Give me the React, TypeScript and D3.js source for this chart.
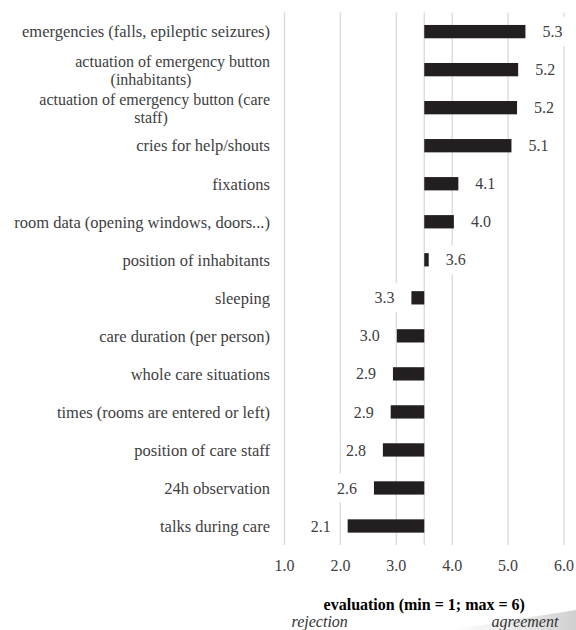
import React from "react";
import * as d3 from "d3";

const categories = [
  "emergencies (falls, epileptic seizures)",
  "actuation of emergency button (inhabitants)",
  "actuation of emergency button (care staff)",
  "cries for help/shouts",
  "fixations",
  "room data (opening windows, doors...)",
  "position of inhabitants",
  "sleeping",
  "care duration (per person)",
  "whole care situations",
  "times (rooms are entered or left)",
  "position of care staff",
  "24h observation",
  "talks during care",
];
const values = [5.31, 5.18, 5.16, 5.06, 4.11, 4.03, 3.58, 3.27, 3.01, 2.94, 2.9, 2.76, 2.6, 2.13];
const xTicks = [1, 2, 3, 4, 5, 6];
const baseline = 3.5;
const axisTitle = "evaluation (min = 1; max = 6)";
const poleLabels = [
  { text: "rejection", at: 1.63 },
  { text: "agreement", at: 5.3 },
];

const W = 576;
const H = 630;
const FONT = "Liberation Serif";
const MAX_CHARS = 39;

function wrap(s: string): string[] {
  const words = s.split(" ");
  const lines: string[] = [];
  let cur = "";
  for (const w of words) {
    const test = cur ? cur + " " + w : w;
    if (test.length > MAX_CHARS && cur) {
      lines.push(cur);
      cur = w;
    } else cur = test;
  }
  lines.push(cur);
  return lines;
}

export default function App() {
  const x = d3.scaleLinear().domain([1, 6]).range([284.5, 564]);
  const y = d3
    .scaleBand<string>()
    .domain(categories)
    .range([12.6, 545])
    .paddingInner(0.65)
    .paddingOuter(0.325);
  const fmt = d3.format(".1f");
  const bw = y.bandwidth();
  const gridVals = [...xTicks, baseline];

  return (
    <div style={{ position: "absolute", left: 0, top: 0 }}>
      <svg width={W} height={H} style={{ display: "block", background: "#fff" }} fontFamily={FONT}>
        <defs>
          <linearGradient id="shade" x1="0" y1="0" x2="1" y2="0">
            <stop offset="0" stopColor="#ffffff" />
            <stop offset="0.6" stopColor="#e6e6e6" />
            <stop offset="1" stopColor="#d0d0d0" />
          </linearGradient>
        </defs>
        <path d="M450,630 L576,610 L576,630 Z" fill="url(#shade)" />

        {gridVals.map((g) => (
          <line key={g} x1={x(g)} x2={x(g)} y1={12.6} y2={545} stroke="#d9d9d9" strokeWidth={1.3} />
        ))}

        {values.map((v, i) => (
          <rect
            key={i}
            x={Math.min(x(v), x(baseline))}
            width={Math.abs(x(v) - x(baseline))}
            y={y(categories[i])}
            height={bw}
            fill="#231f20"
          />
        ))}

        {values.map((v, i) => {
          const cy = y(categories[i])! + bw / 2;
          const pos = v >= baseline;
          const label = fmt(v);
          const tw = 20;
          const tx = pos ? x(v) + 17 : x(v) - 17;
          const left = pos ? tx : tx - tw;
          return (
            <g key={i}>
              <rect x={left - 5} y={cy - 14.5} width={tw + 10} height={29} fill="#fff" />
              <text
                x={tx}
                y={cy}
                dy="0.35em"
                textAnchor={pos ? "start" : "end"}
                fontSize={16}
                fill="#404040"
              >
                {label}
              </text>
            </g>
          );
        })}

        {categories.map((c) => {
          const cy = y(c)! + bw / 2;
          const lines = wrap(c);
          const lh = 18;
          const multi = lines.length > 1;
          const top = cy - ((lines.length - 1) * lh) / 2 + (multi ? 1 : 0);
          return (
            <text key={c} fontSize={multi ? 16 : 16.5} fill="#404040">
              {lines.map((l, k) => (
                <tspan
                  key={k}
                  x={k === 0 ? 270 : 151}
                  y={top + k * lh}
                  dy="0.35em"
                  textAnchor={k === 0 ? "end" : "middle"}
                >
                  {l}
                </tspan>
              ))}
            </text>
          );
        })}

        {xTicks.map((t) => (
          <text key={t} x={x(t)} y={565} dy="0.35em" textAnchor="middle" fontSize={16} fill="#404040">
            {fmt(t)}
          </text>
        ))}

        <text x={x(baseline)} y={610} textAnchor="middle" fontSize={16} fontWeight="bold" fill="#000">
          {axisTitle}
        </text>

        {poleLabels.map((p) => (
          <text key={p.text} x={x(p.at)} y={627} textAnchor="middle" fontSize={16} fontStyle="italic" fill="#333">
            {p.text}
          </text>
        ))}
      </svg>
    </div>
  );
}
